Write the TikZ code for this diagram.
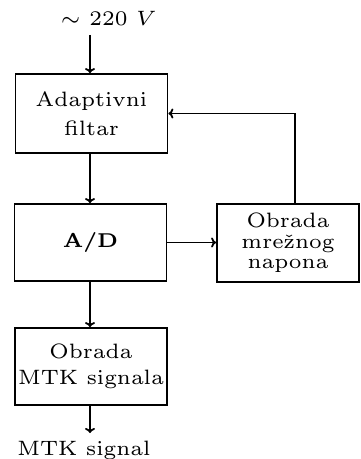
\documentclass[tikz,border=0pt]{standalone}
\usetikzlibrary{arrows.meta}
\font\rmf=cmr6 at 10.4pt
\font\bff=cmbx6 at 10pt
\font\mif=cmmi6 at 10.4pt
\font\syf=cmsy6 at 10.4pt
\def\fA{\rmf\baselineskip14.5pt\relax}
\def\fB{\rmf\baselineskip10.3pt\relax}
\def\fC{\rmf\baselineskip13pt\relax}
\begin{document}
\begin{tikzpicture}[x=0.5pt,y=-0.5pt,
  box/.style={draw,line width=0.9pt,inner sep=0pt,align=center,minimum width=76pt},
  arr/.style={line width=0.9pt,-{To[length=2.5pt,width=5pt]}},
  txt/.style={font=\rmf}]
\useasboundingbox (0,0) rectangle (360,459);
% boxes
\node[box,minimum height=39.5pt,font=\fA] (b1) at (91.5,113.5) {Adaptivni\\filtar};
\node[box,minimum height=38.5pt,font=\bff] (b2) at (90.5,242.5) {A/D};
\node[box,minimum height=39pt,minimum width=71pt,font=\fB] (ob) at (288,243) {Obrada\\mre{\accent"14 z}nog\\napona};
\node[box,minimum height=38.5pt,font=\fC] (b3) at (91,366.5) {Obrada\\MTK signala};
% terminal labels
\node[txt,anchor=base] (vin) at (106,26) {{\syf\char"18} 220 {\mif V}};
\node[txt,anchor=base] (vout) at (84,455) {MTK signal};
\coordinate (in) at (90,35);
\coordinate (out) at (90,433);
% connectors
\draw[arr] (in) -- (in |- b1.north);
\draw[arr] (b1.south -| in) -- (b2.north -| in);
\draw[arr] (b2.east) -- (b2.east -| ob.west);
\draw[arr] ([xshift=3.5pt]ob.north) |- (b1.east);
\draw[arr] (b2.south -| in) -- (b3.north -| in);
\draw[arr] (b3.south -| out) -- (out);
\end{tikzpicture}
\end{document}
